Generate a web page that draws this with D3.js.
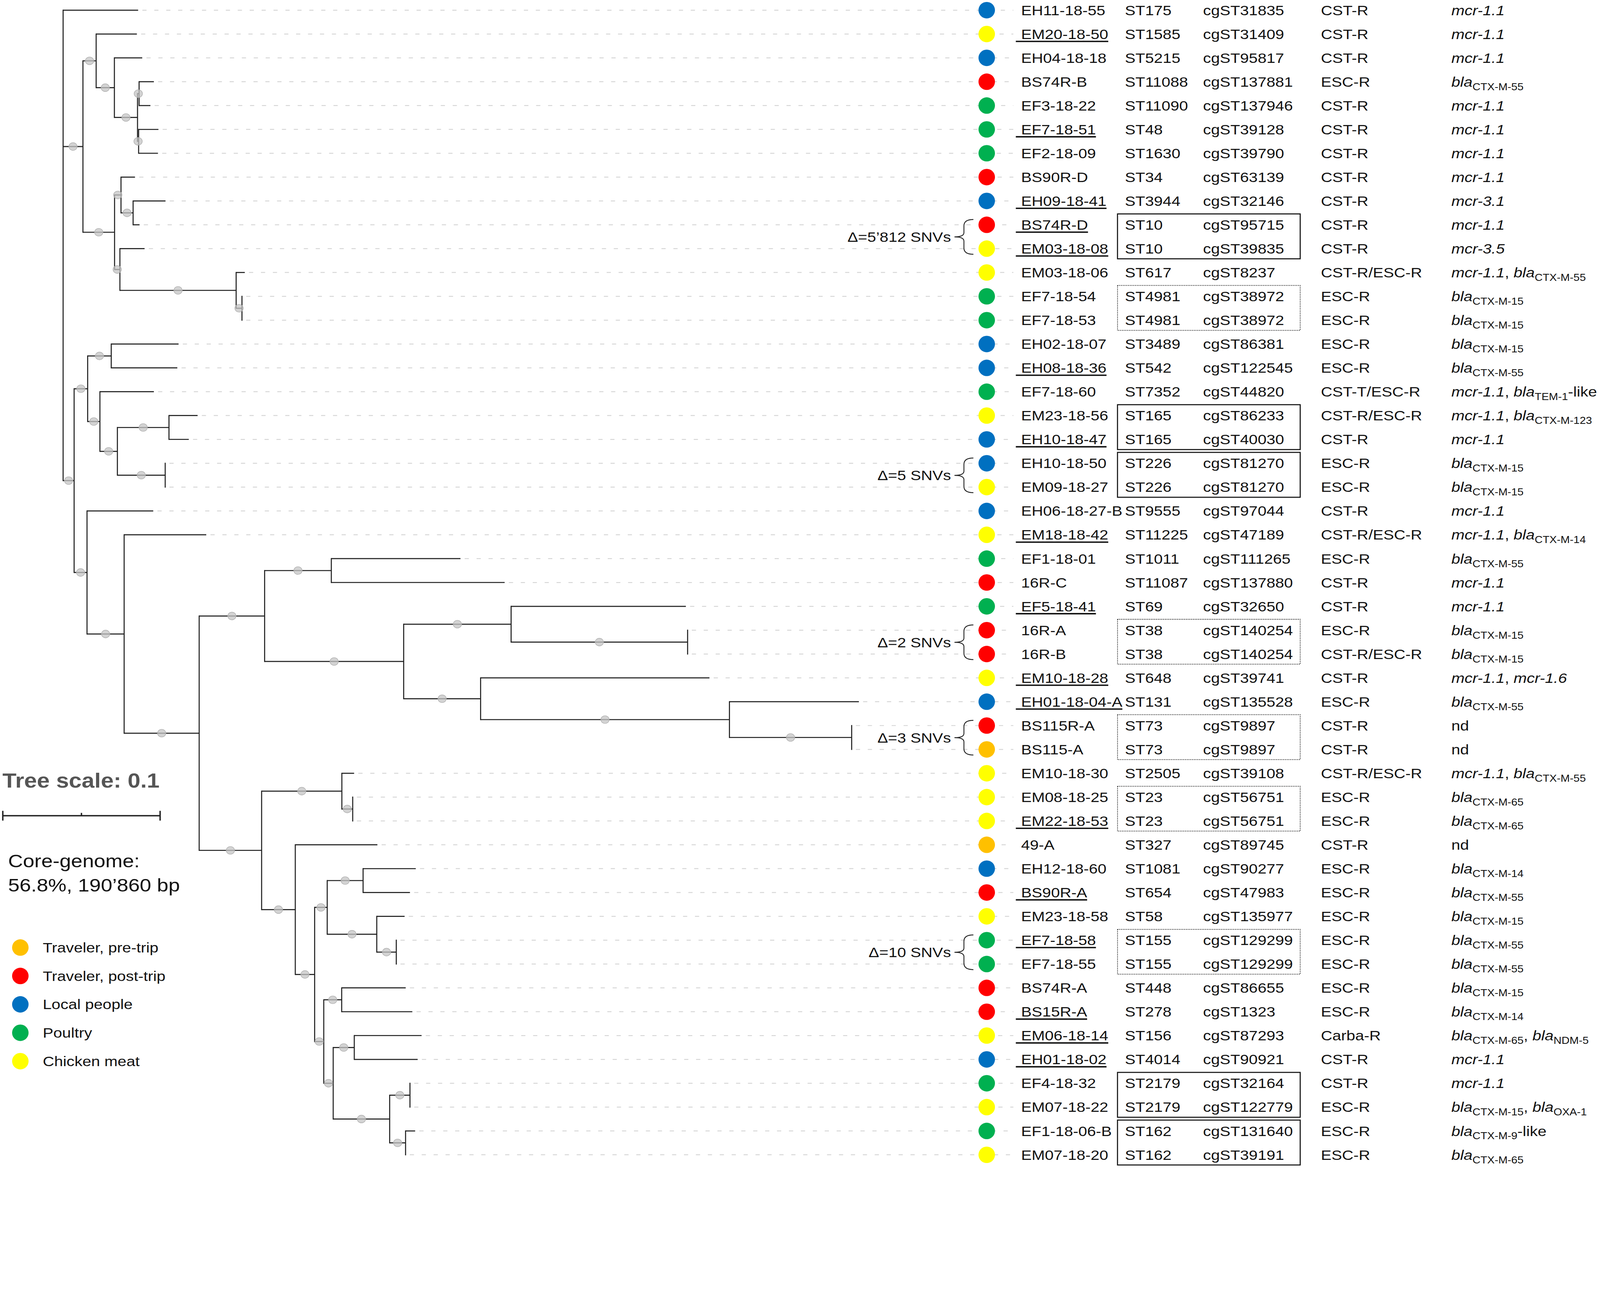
<!DOCTYPE html>
<html>
<head>
<meta charset="utf-8">
<script src="https://cdn.jsdelivr.net/npm/d3@7"></script>
<style>
  html, body { margin: 0; padding: 0; overflow: hidden; background: #fff; }
  svg { display: block; width: 100%; height: auto; }
  text { white-space: pre; }
</style>
</head>
<body>
<script>
// tree topology with branch lengths (substitutions/site), leaves in row order
const newick =
  "(EH11-18-55:0.0477," +
  "((EM20-18-50:0.0259,(EH04-18-18:0.0177,((BS74R-B:0.0094,EF3-18-22:0.0072):0.0010,(EF7-18-51:0.0126,EF2-18-09:0.0123):0.0007):0.0147):0.0116):0.0084," +
  "((BS90R-D:0.0089,(EH09-18-41:0.0206,BS74R-D:0.0041):0.0077):0.0041,(EM03-18-08:0.0157,(EM03-18-06:0.0055,(EF7-18-54:0,EF7-18-53:0):0.0037):0.0739):0.0034):0.0201):0.0126," +
  "(((EH02-18-07:0.0428,EH08-18-36:0.0420):0.0150,(EF7-18-60:0.0343,((EM23-18-56:0.0182,EH10-18-47:0.0126):0.0328,(EH10-18-50:0,EM09-18-27:0):0.0304):0.0111):0.0078):0.0086," +
  "(EH06-18-27-B:0.0421,(EM18-18-42:0.0522," +
  "(((EF1-18-01:0.0821,16R-C:0.1102):0.0424,((EF5-18-41:0.1111,(16R-A:0,16R-B:0):0.1122):0.0683,(EM10-18-28:0.1455,(EH01-18-04-A:0.0823,(BS115R-A:0,BS115-A:0):0.0777):0.1582):0.0489):0.0884):0.0416," +
  "((EM10-18-30:0.0078,(EM08-18-25:0,EM22-18-53:0):0.0069):0.0510," +
  "(49-A:0.0522,(((EH12-18-60:0.0335,BS90R-A:0.0298):0.0228,(EM23-18-58:0.0177,(EF7-18-58:0,EF7-18-55:0):0.0124):0.0315):0.0080," +
  "((BS74R-A:0.0407,BS15R-A:0.0449):0.0114,((EM06-18-14:0.0428,EH01-18-02:0.0403):0.0134,((EF4-18-32:0,EM07-18-22:0):0.0129,(EF1-18-06-B:0.0061,EM07-18-20:0):0.0101):0.0359):0.0060):0.0058):0.0123):0.0214):0.0397):0.0477):0.0236):0.0082):0.0070);";

const leafNames = ["EH11-18-55","EM20-18-50","EH04-18-18","BS74R-B","EF3-18-22","EF7-18-51","EF2-18-09","BS90R-D","EH09-18-41","BS74R-D",
  "EM03-18-08","EM03-18-06","EF7-18-54","EF7-18-53","EH02-18-07","EH08-18-36","EF7-18-60","EM23-18-56","EH10-18-47","EH10-18-50",
  "EM09-18-27","EH06-18-27-B","EM18-18-42","EF1-18-01","16R-C","EF5-18-41","16R-A","16R-B","EM10-18-28","EH01-18-04-A",
  "BS115R-A","BS115-A","EM10-18-30","EM08-18-25","EM22-18-53","49-A","EH12-18-60","BS90R-A","EM23-18-58","EF7-18-58",
  "EF7-18-55","BS74R-A","BS15R-A","EM06-18-14","EH01-18-02","EF4-18-32","EM07-18-22","EF1-18-06-B","EM07-18-20"];

const sources = ["local","meat","local","post","poultry","poultry","poultry","post","local","post",
  "meat","meat","poultry","poultry","local","local","poultry","meat","local","local",
  "meat","local","meat","poultry","post","poultry","post","post","meat","local",
  "post","pre","meat","meat","meat","pre","local","post","meat","poultry",
  "poultry","post","post","meat","local","poultry","meat","poultry","meat"];

const stTypes = ["ST175","ST1585","ST5215","ST11088","ST11090","ST48","ST1630","ST34","ST3944","ST10",
  "ST10","ST617","ST4981","ST4981","ST3489","ST542","ST7352","ST165","ST165","ST226",
  "ST226","ST9555","ST11225","ST1011","ST11087","ST69","ST38","ST38","ST648","ST131",
  "ST73","ST73","ST2505","ST23","ST23","ST327","ST1081","ST654","ST58","ST155",
  "ST155","ST448","ST278","ST156","ST4014","ST2179","ST2179","ST162","ST162"];

const cgstTypes = ["cgST31835","cgST31409","cgST95817","cgST137881","cgST137946","cgST39128","cgST39790","cgST63139","cgST32146","cgST95715",
  "cgST39835","cgST8237","cgST38972","cgST38972","cgST86381","cgST122545","cgST44820","cgST86233","cgST40030","cgST81270",
  "cgST81270","cgST97044","cgST47189","cgST111265","cgST137880","cgST32650","cgST140254","cgST140254","cgST39741","cgST135528",
  "cgST9897","cgST9897","cgST39108","cgST56751","cgST56751","cgST89745","cgST90277","cgST47983","cgST135977","cgST129299",
  "cgST129299","cgST86655","cgST1323","cgST87293","cgST90921","cgST32164","cgST122779","cgST131640","cgST39191"];

const resistance = ["CST-R","CST-R","CST-R","ESC-R","CST-R","CST-R","CST-R","CST-R","CST-R","CST-R",
  "CST-R","CST-R/ESC-R","ESC-R","ESC-R","ESC-R","ESC-R","CST-T/ESC-R","CST-R/ESC-R","CST-R","ESC-R",
  "ESC-R","CST-R","CST-R/ESC-R","ESC-R","CST-R","CST-R","ESC-R","CST-R/ESC-R","CST-R","ESC-R",
  "CST-R","CST-R","CST-R/ESC-R","ESC-R","ESC-R","CST-R","ESC-R","ESC-R","ESC-R","ESC-R",
  "ESC-R","ESC-R","ESC-R","Carba-R","CST-R","CST-R","ESC-R","ESC-R","ESC-R"];

// [..] = subscript
const genes = ["mcr-1.1","mcr-1.1","mcr-1.1","bla[CTX-M-55]","mcr-1.1","mcr-1.1","mcr-1.1","mcr-1.1","mcr-3.1","mcr-1.1",
  "mcr-3.5","mcr-1.1, bla[CTX-M-55]","bla[CTX-M-15]","bla[CTX-M-15]","bla[CTX-M-15]","bla[CTX-M-55]","mcr-1.1, bla[TEM-1]-like","mcr-1.1, bla[CTX-M-123]","mcr-1.1","bla[CTX-M-15]",
  "bla[CTX-M-15]","mcr-1.1","mcr-1.1, bla[CTX-M-14]","bla[CTX-M-55]","mcr-1.1","mcr-1.1","bla[CTX-M-15]","bla[CTX-M-15]","mcr-1.1, mcr-1.6","bla[CTX-M-55]",
  "nd","nd","mcr-1.1, bla[CTX-M-55]","bla[CTX-M-65]","bla[CTX-M-65]","nd","bla[CTX-M-14]","bla[CTX-M-55]","bla[CTX-M-15]","bla[CTX-M-55]",
  "bla[CTX-M-55]","bla[CTX-M-15]","bla[CTX-M-14]","bla[CTX-M-65], bla[NDM-5]","mcr-1.1","mcr-1.1","bla[CTX-M-15], bla[OXA-1]","bla[CTX-M-9]-like","bla[CTX-M-65]"];

const underlined = ["EM20-18-50","EF7-18-51","EH09-18-41","BS74R-D","EM03-18-08","EH08-18-36","EH10-18-47","EM18-18-42","EF5-18-41",
  "EM10-18-28","EH01-18-04-A","EM22-18-53","BS90R-A","EF7-18-58","BS15R-A","EM06-18-14","EH01-18-02"];

const solidBoxes = [[9,10],[17,18],[19,20],[45,46],[47,48]];
const dottedBoxes = [[12,13],[26,27],[30,31],[33,34],[39,40]];

const snvPairs = [[9,10],[19,20],[26,27],[30,31],[39,40]];
const snvLabels = ["Δ=5’812 SNVs","Δ=5 SNVs","Δ=2 SNVs","Δ=3 SNVs","Δ=10 SNVs"];

const legendKeys = ["pre","post","local","poultry","meat"];
const legendLabels = ["Traveler, pre-trip","Traveler, post-trip","Local people","Poultry","Chicken meat"];
const legendColors = ["#FFC000","#FF0000","#0070C0","#00B050","#FFFF00"];

// ---------------------------------------------------------------
const W = 4563, H = 3343;
const FONT = "'Liberation Sans', Arial, sans-serif";
const SX = 1.13;   // the original text is a bit wider than Arial

const colour = d3.scaleOrdinal().domain(legendKeys).range(legendColors);
const x = d3.scaleLinear().domain([0, 0.1]).range([180, 628.6]);
const y = d3.scaleLinear().domain([0, leafNames.length - 1]).range([29, 3293]);

const colName = 2912, colST = 3208, colCg = 3431, colRes = 3767, colGene = 4139;
const dotX = 2814;

function parseNewick(s) {
  let i = 0;
  function node() {
    const n = {};
    if (s[i] === "(") {
      n.children = [];
      i++;
      n.children.push(node());
      while (s[i] === ",") { i++; n.children.push(node()); }
      i++;
    }
    let name = "";
    while (i < s.length && !":,);".includes(s[i])) name += s[i++];
    n.name = name;
    n.length = 0;
    if (s[i] === ":") {
      i++;
      let num = "";
      while (i < s.length && !",);".includes(s[i])) num += s[i++];
      n.length = +num;
    }
    return n;
  }
  return node();
}

const root = d3.hierarchy(parseNewick(newick));
root.eachBefore(d => { d.dist = d.parent ? d.parent.dist + d.data.length : 0; });
root.leaves().forEach(d => { d.row = leafNames.indexOf(d.data.name); d.yy = y(d.row); });
root.eachAfter(d => {
  if (d.children) d.yy = (d.children[0].yy + d.children[d.children.length - 1].yy) / 2;
});

const svg = d3.select("body").append("svg")
  .attr("viewBox", `0 0 ${W} ${H}`)
  .attr("preserveAspectRatio", "xMidYMin meet")
  .style("font-family", FONT);
svg.append("rect").attr("width", W).attr("height", H).attr("fill", "#fff");

function label(g, px, py, str, size) {
  return g.append("text")
    .attr("transform", `translate(${px},${py}) scale(${SX},1)`)
    .attr("font-size", size || 40)
    .text(str);
}

// dashed leaders
svg.append("g").selectAll("line").data(root.leaves()).join("line")
  .attr("x1", d => x(d.dist) + 12).attr("x2", 2890)
  .attr("y1", d => d.yy).attr("y2", d => d.yy)
  .attr("stroke", "#d4d4d4").attr("stroke-width", 2.5)
  .attr("stroke-dasharray", "12,22");

// tree
const gTree = svg.append("g").attr("stroke", "#222").attr("fill", "none");
gTree.selectAll("line.v").data(root.descendants().filter(d => d.children)).join("line")
  .attr("class", "v")
  .attr("x1", d => x(d.dist)).attr("x2", d => x(d.dist))
  .attr("y1", d => d.children[0].yy).attr("y2", d => d.children[d.children.length - 1].yy)
  .attr("stroke-width", 3).attr("stroke-linecap", "square");
gTree.selectAll("line.h").data(root.descendants().filter(d => d.parent)).join("line")
  .attr("class", "h")
  .attr("x1", d => x(d.parent.dist)).attr("x2", d => x(d.dist))
  .attr("y1", d => d.yy).attr("y2", d => d.yy)
  .attr("stroke-width", 3);

// support markers on internal branches
svg.append("g").selectAll("ellipse")
  .data(root.descendants().filter(d => d.parent && d.children)).join("ellipse")
  .attr("cx", d => (x(d.parent.dist) + x(d.dist)) / 2).attr("cy", d => d.yy)
  .attr("rx", 12).attr("ry", 11)
  .attr("fill", "#c4c4c4").attr("fill-opacity", 0.75)
  .attr("stroke", "#b0b0b0").attr("stroke-width", 1.5);

// source dots
svg.append("g").selectAll("circle").data(leafNames).join("circle")
  .attr("cx", dotX).attr("cy", (d, i) => y(i)).attr("r", 23.5)
  .attr("fill", (d, i) => colour(sources[i]));

// table columns
const gTab = svg.append("g").attr("fill", "#111");
leafNames.forEach((nm, i) => {
  const base = y(i) + 14;
  const t = label(gTab, colName, base, nm);
  if (underlined.includes(nm)) {
    const w = t.node().getComputedTextLength() * SX;
    gTab.append("line").attr("x1", colName - 15).attr("x2", colName + w)
      .attr("y1", y(i) + 21).attr("y2", y(i) + 21)
      .attr("stroke", "#111").attr("stroke-width", 4);
  }
  label(gTab, colST, base, stTypes[i]);
  label(gTab, colCg, base, cgstTypes[i]);
  label(gTab, colRes, base, resistance[i]);

  const g = gTab.append("text")
    .attr("transform", `translate(${colGene},${base}) scale(${SX},1)`)
    .attr("font-size", 40);
  let down = false;
  genes[i].split(/(\[[^\]]+\])/).filter(p => p).forEach(part => {
    if (part[0] === "[") {
      g.append("tspan").attr("font-size", 28).attr("dy", 10).text(part.slice(1, -1));
      down = true;
    } else {
      part.split(/(bla|mcr-\d\.\d)/).filter(p => p).forEach(p => {
        const ts = g.append("tspan").text(p);
        if (down) { ts.attr("dy", -10); down = false; }
        if (/^(bla|mcr-)/.test(p)) ts.attr("font-style", "italic");
      });
    }
  });
});

// ST / cgST boxes
const boxX0 = 3187, boxX1 = 3708;
function boxes(list, dash, sw) {
  svg.append("g").selectAll("rect").data(list).join("rect")
    .attr("x", boxX0).attr("width", boxX1 - boxX0)
    .attr("y", d => y(d[0]) - 31).attr("height", d => y(d[1]) - y(d[0]) + 60)
    .attr("fill", "none").attr("stroke", "#111").attr("stroke-width", sw)
    .attr("stroke-dasharray", dash);
}
boxes(solidBoxes, null, 3);
boxes(dottedBoxes, "2.5,2.5", 2);

// SNV braces
const gBr = svg.append("g");
snvPairs.forEach((p, k) => {
  const top = y(p[0]) - 15, bot = y(p[1]) + 16, mid = (top + bot) / 2;
  const xe = 2776, xv = 2749, xt = 2722;
  gBr.append("path")
    .attr("d", `M${xe},${top} Q${xv},${top} ${xv},${top + 18} L${xv},${mid - 12} Q${xv},${mid} ${xt},${mid}` +
      ` Q${xv},${mid} ${xv},${mid + 12} L${xv},${bot - 18} Q${xv},${bot} ${xe},${bot}`)
    .attr("fill", "none").attr("stroke", "#222").attr("stroke-width", 2.5);
  label(gBr, 2712, mid + 14, snvLabels[k]).attr("text-anchor", "end").attr("fill", "#111");
});

// tree scale
const gLeg = svg.append("g");
label(gLeg, 7, 2246, "Tree scale: 0.1", 58).attr("font-weight", "bold").attr("fill", "#555");
const sb0 = 8, sb1 = sb0 + (x(0.1) - x(0)), sbY = 2326;
gLeg.append("path")
  .attr("d", `M${sb0},${sbY} H${sb1} M${sb0},${sbY - 14} V${sbY + 14} M${sb1},${sbY - 14} V${sbY + 14}` +
    ` M${(sb0 + sb1) / 2},${sbY - 8} V${sbY}`)
  .attr("stroke", "#222").attr("stroke-width", 4).attr("fill", "none");

label(gLeg, 23, 2473, "Core-genome:", 52).attr("fill", "#111");
label(gLeg, 23, 2542, "56.8%, 190’860 bp", 52).attr("fill", "#111");

legendLabels.forEach((lab, i) => {
  const cy = 2702 + i * 81;
  gLeg.append("circle").attr("cx", 58).attr("cy", cy).attr("r", 23.5).attr("fill", legendColors[i]);
  label(gLeg, 122, cy + 14, lab, 40).attr("fill", "#111");
});
</script>
</body>
</html>
